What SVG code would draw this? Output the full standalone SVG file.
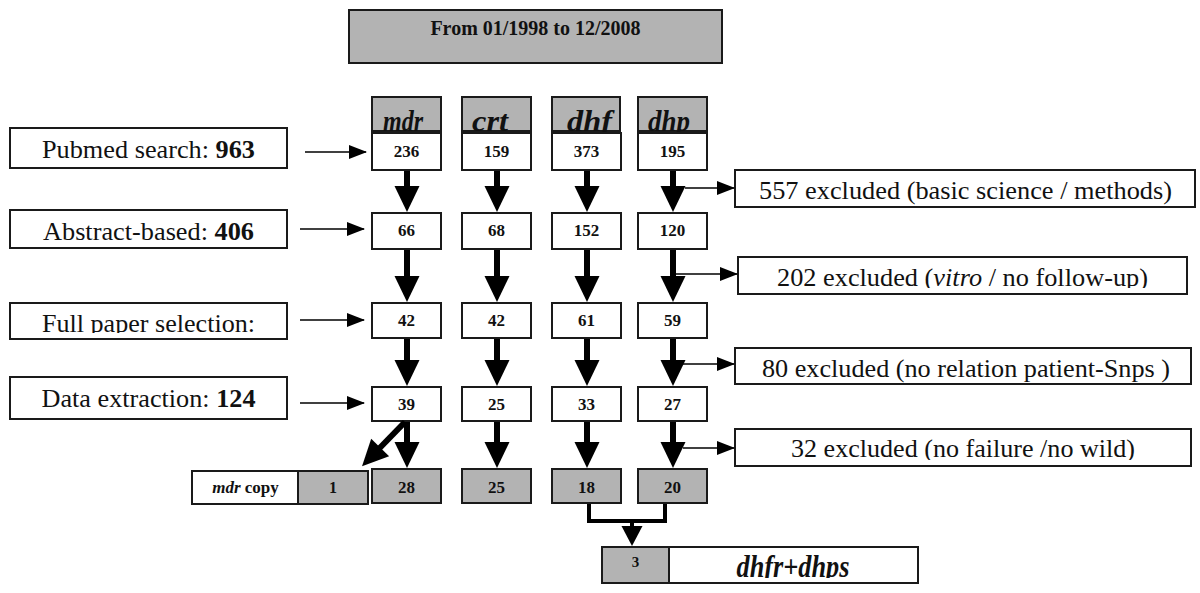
<svg xmlns="http://www.w3.org/2000/svg" width="1200" height="593" viewBox="0 0 1200 593">
<style>
.bx{fill:#fff;stroke:#1a1a1a;stroke-width:2}
.gy{fill:#b3b3b3;stroke:#1a1a1a;stroke-width:2}
.t{font-family:"Liberation Serif","Times New Roman",serif;fill:#111}
.v{font-size:17px;font-weight:bold;text-anchor:middle}
.lb{font-size:26px;text-anchor:middle}
.ex{font-size:25px;text-anchor:middle}
.gn{font-size:30px;font-weight:bold;font-style:italic;text-anchor:middle}
.thick{stroke:#000;stroke-width:6;fill:none;marker-end:url(#big)}
.thin{stroke:#000;stroke-width:1.6;fill:none;marker-end:url(#sm)}
</style>
<defs>
<marker id="big" markerUnits="userSpaceOnUse" markerWidth="26" markerHeight="26" refX="16" refY="12.5" orient="auto" overflow="visible"><path d="M0,0 L26,12.5 L0,25 z" fill="#000"/></marker>
<marker id="mid" markerUnits="userSpaceOnUse" markerWidth="20" markerHeight="22" refX="10" refY="10.5" orient="auto" overflow="visible"><path d="M0,0 L20,10.5 L0,21 z" fill="#000"/></marker>
<marker id="sm" markerUnits="userSpaceOnUse" markerWidth="18" markerHeight="14" refX="17" refY="7" orient="auto" overflow="visible"><path d="M0,0 L18,7 L0,14 z" fill="#000"/></marker>
<clipPath id="cFull"><rect x="10" y="303" width="277" height="30"/></clipPath>
<clipPath id="c202"><rect x="738" y="257" width="449" height="31"/></clipPath>
<clipPath id="c32"><rect x="735" y="429" width="456" height="31"/></clipPath>
<clipPath id="cDh"><rect x="669" y="547" width="249" height="31"/></clipPath>
</defs>

<g id="title"><rect class="gy" x="349" y="10" width="373" height="53"/><text class="t" x="535.5" y="35" font-size="20" font-weight="bold" text-anchor="middle">From 01/1998 to 12/2008</text></g>

<g id="gene-mdr"><rect class="gy" x="372" y="97" width="69" height="34"/><text class="t gn" x="403" y="131" textLength="40" lengthAdjust="spacingAndGlyphs">mdr</text></g>
<g id="gene-crt"><rect class="gy" x="462" y="97" width="69" height="34"/><text class="t gn" x="490" y="131" textLength="36" lengthAdjust="spacingAndGlyphs">crt</text></g>
<g id="gene-dhf"><rect class="gy" x="552" y="97" width="68" height="34"/><text class="t gn" x="589.5" y="131" textLength="45" lengthAdjust="spacingAndGlyphs">dhf</text></g>
<g id="gene-dhp"><rect class="gy" x="638" y="97" width="69" height="34"/><text class="t gn" x="669" y="131" textLength="42" lengthAdjust="spacingAndGlyphs">dhp</text></g>

<g id="left-pubmed"><rect class="bx" x="10" y="128" width="277" height="40"/><text class="t lb" x="148.5" y="158" textLength="213" lengthAdjust="spacingAndGlyphs">Pubmed search: <tspan font-weight="bold">963</tspan></text></g>
<g id="left-abstract"><rect class="bx" x="10" y="210" width="277" height="38"/><text class="t lb" x="148.5" y="240" textLength="211" lengthAdjust="spacingAndGlyphs">Abstract-based: <tspan font-weight="bold">406</tspan></text></g>
<g id="left-full"><rect class="bx" x="10" y="303" width="277" height="36"/><text class="t lb" x="148.5" y="332" textLength="213" lengthAdjust="spacingAndGlyphs" clip-path="url(#cFull)">Full paper selection:</text></g>
<g id="left-data"><rect class="bx" x="10" y="377" width="277" height="42"/><text class="t lb" x="148.5" y="407" textLength="214" lengthAdjust="spacingAndGlyphs">Data extraction: <tspan font-weight="bold">124</tspan></text></g>

<g id="r1-mdr"><rect class="bx" x="372" y="133" width="69" height="37"/><text class="t v" x="406.5" y="157">236</text></g>
<g id="r1-crt"><rect class="bx" x="462" y="133" width="69" height="37"/><text class="t v" x="496.5" y="157">159</text></g>
<g id="r1-dhf"><rect class="bx" x="552" y="133" width="69" height="37"/><text class="t v" x="586.5" y="157">373</text></g>
<g id="r1-dhp"><rect class="bx" x="638" y="133" width="69" height="37"/><text class="t v" x="672.5" y="157">195</text></g>

<g id="r2-mdr"><rect class="bx" x="372" y="213" width="69" height="36"/><text class="t v" x="406.5" y="236">66</text></g>
<g id="r2-crt"><rect class="bx" x="462" y="213" width="69" height="36"/><text class="t v" x="496.5" y="236">68</text></g>
<g id="r2-dhf"><rect class="bx" x="552" y="213" width="69" height="36"/><text class="t v" x="586.5" y="236">152</text></g>
<g id="r2-dhp"><rect class="bx" x="638" y="213" width="69" height="36"/><text class="t v" x="672.5" y="236">120</text></g>

<g id="r3-mdr"><rect class="bx" x="372" y="303" width="69" height="35"/><text class="t v" x="406.5" y="326">42</text></g>
<g id="r3-crt"><rect class="bx" x="462" y="303" width="69" height="35"/><text class="t v" x="496.5" y="326">42</text></g>
<g id="r3-dhf"><rect class="bx" x="552" y="303" width="69" height="35"/><text class="t v" x="586.5" y="326">61</text></g>
<g id="r3-dhp"><rect class="bx" x="638" y="303" width="69" height="35"/><text class="t v" x="672.5" y="326">59</text></g>

<g id="r4-mdr"><rect class="bx" x="372" y="387" width="69" height="34"/><text class="t v" x="406.5" y="410">39</text></g>
<g id="r4-crt"><rect class="bx" x="462" y="387" width="69" height="34"/><text class="t v" x="496.5" y="410">25</text></g>
<g id="r4-dhf"><rect class="bx" x="552" y="387" width="69" height="34"/><text class="t v" x="586.5" y="410">33</text></g>
<g id="r4-dhp"><rect class="bx" x="638" y="387" width="69" height="34"/><text class="t v" x="672.5" y="410">27</text></g>

<g id="r5-mdr"><rect class="gy" x="372" y="469" width="69" height="34"/><text class="t v" x="406.5" y="493">28</text></g>
<g id="r5-crt"><rect class="gy" x="462" y="469" width="69" height="34"/><text class="t v" x="496.5" y="493">25</text></g>
<g id="r5-dhf"><rect class="gy" x="552" y="469" width="69" height="34"/><text class="t v" x="586.5" y="493">18</text></g>
<g id="r5-dhp"><rect class="gy" x="638" y="469" width="69" height="34"/><text class="t v" x="672.5" y="493">20</text></g>

<g id="mdr-copy"><rect class="bx" x="192" y="471" width="106" height="33"/><text class="t" x="245.5" y="493" font-size="17" font-weight="bold" text-anchor="middle"><tspan font-style="italic">mdr</tspan> copy</text><rect class="gy" x="298" y="471" width="70" height="33"/><text class="t" x="333" y="493" font-size="16" font-weight="bold" text-anchor="middle">1</text></g>

<g id="combo"><rect class="gy" x="602" y="547" width="67" height="36"/><text class="t" x="635.5" y="567" font-size="15" font-weight="bold" text-anchor="middle">3</text><rect class="bx" x="669" y="547" width="249" height="36"/><text class="t" x="793" y="577" font-size="32" font-weight="bold" font-style="italic" text-anchor="middle" textLength="113" lengthAdjust="spacingAndGlyphs" clip-path="url(#cDh)">dhfr+dhps</text></g>

<g id="ex-557"><rect class="bx" x="735" y="170" width="460" height="37"/><text class="t ex" x="965.5" y="199" textLength="413" lengthAdjust="spacingAndGlyphs">557 excluded (basic science / methods)</text></g>
<g id="ex-202"><rect class="bx" x="738" y="257" width="449" height="37"/><text class="t ex" x="962.5" y="286" textLength="371" lengthAdjust="spacingAndGlyphs" clip-path="url(#c202)">202 excluded (<tspan font-style="italic">vitro</tspan> / no follow-up)</text></g>
<g id="ex-80"><rect class="bx" x="735" y="348" width="456" height="36"/><text class="t ex" x="966" y="377" textLength="408" lengthAdjust="spacingAndGlyphs">80 excluded (no relation patient-Snps )</text></g>
<g id="ex-32"><rect class="bx" x="735" y="429" width="456" height="37"/><text class="t ex" x="963" y="457" textLength="344" lengthAdjust="spacingAndGlyphs" clip-path="url(#c32)">32 excluded (no failure /no wild)</text></g>

<g id="connectors">
<line class="thin" x1="305" y1="152" x2="366" y2="152"/>
<line class="thin" x1="300" y1="229" x2="364" y2="229"/>
<line class="thin" x1="300" y1="320" x2="364" y2="320"/>
<line class="thin" x1="300" y1="403" x2="364" y2="403"/>

<line class="thin" x1="685" y1="188" x2="734" y2="188"/>
<line class="thin" x1="675" y1="274" x2="737" y2="274"/>
<line class="thin" x1="683" y1="364" x2="734" y2="364"/>
<line class="thin" x1="683" y1="448" x2="734" y2="448"/>

<line class="thick" x1="407" y1="171" x2="407" y2="202"/>
<line class="thick" x1="497" y1="171" x2="497" y2="202"/>
<line class="thick" x1="587" y1="171" x2="587" y2="202"/>
<line class="thick" x1="673" y1="171" x2="673" y2="202"/>

<line class="thick" x1="407" y1="250" x2="407" y2="292"/>
<line class="thick" x1="497" y1="250" x2="497" y2="292"/>
<line class="thick" x1="587" y1="250" x2="587" y2="292"/>
<line class="thick" x1="673" y1="250" x2="673" y2="292"/>

<line class="thick" x1="407" y1="339" x2="407" y2="376"/>
<line class="thick" x1="497" y1="339" x2="497" y2="376"/>
<line class="thick" x1="587" y1="339" x2="587" y2="376"/>
<line class="thick" x1="673" y1="339" x2="673" y2="376"/>

<line class="thick" x1="407" y1="422" x2="407" y2="458"/>
<line class="thick" x1="497" y1="422" x2="497" y2="458"/>
<line class="thick" x1="587" y1="422" x2="587" y2="458"/>
<line class="thick" x1="673" y1="422" x2="673" y2="458"/>
<line class="thick" x1="405" y1="422" x2="369" y2="459"/>

<polyline points="589,504 589,521 665,521 665,504" fill="none" stroke="#000" stroke-width="4"/>
<line x1="632" y1="521" x2="632" y2="536" stroke="#000" stroke-width="4" marker-end="url(#mid)"/>
</g>
</svg>
